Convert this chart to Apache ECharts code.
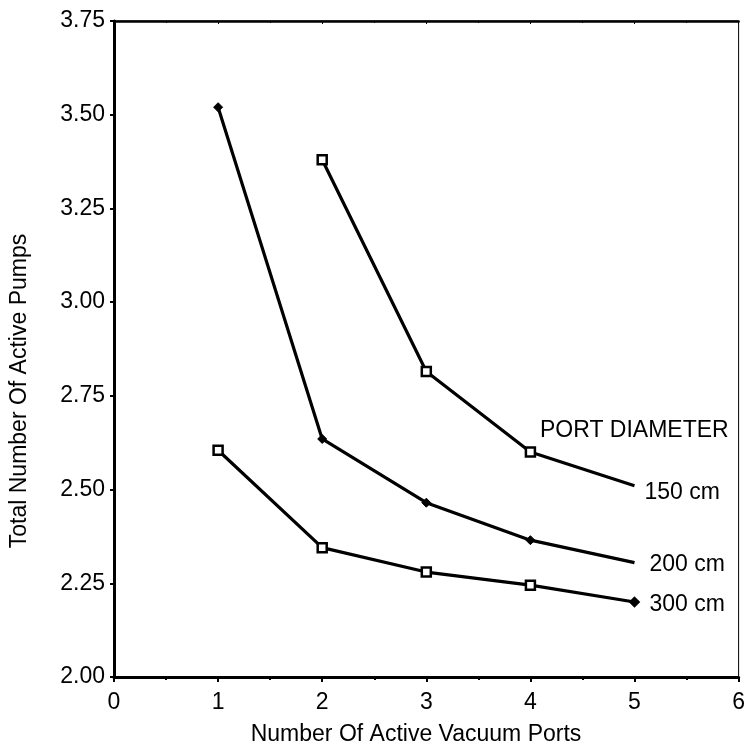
<!DOCTYPE html>
<html>
<head>
<meta charset="utf-8">
<script src="https://cdn.jsdelivr.net/npm/echarts@6/dist/echarts.min.js"></script>
<style>html,body{margin:0;padding:0;background:#fff}#c{width:748px;height:746px}</style>
</head>
<body>
<div id="c"></div>
<script>
const ports = [1, 2, 3, 4, 5];
const pumps150 = [null, 3.38, 2.815, 2.60, 2.51];
const pumps200 = [3.52, 2.635, 2.465, 2.365, 2.305];
const pumps300 = [2.605, 2.345, 2.28, 2.245, 2.20];
const seriesNames = ['150 cm', '200 cm', '300 cm'];
const yTicks = ['2.00', '2.25', '2.50', '2.75', '3.00', '3.25', '3.50', '3.75'];
const legendTitle = 'PORT DIAMETER';
const xTitle = 'Number Of Active Vacuum Ports';
const yTitle = 'Total Number Of Active Pumps';

const FONT = '"Liberation Sans", Arial, Helvetica, sans-serif';
const FS = 23;

function build(vals, name, symbol, lastSymbol, labelOffset) {
  const pts = [];
  ports.forEach((x, i) => {
    if (vals[i] == null) return;
    pts.push({ value: [x, vals[i]] });
  });
  const last = pts[pts.length - 1];
  last.symbol = lastSymbol;
  if (lastSymbol !== 'none') { last.symbolSize = 8; last.itemStyle = { color: '#000', borderColor: '#000' }; }
  return {
    type: 'line', name: name, data: pts,
    symbol: symbol, symbolSize: 9,
    lineStyle: { color: '#000', width: 3.2 },
    itemStyle: symbol === 'diamond'
      ? { color: '#000', borderColor: '#000', borderWidth: 1 }
      : { color: '#fff', borderColor: '#000', borderWidth: 2.5 },
    endLabel: {
      show: true, formatter: name, distance: 14, offset: labelOffset,
      color: '#000', fontSize: FS, fontFamily: FONT
    },
    z: 3, animation: false
  };
}

const chart = echarts.init(document.getElementById('c'));
chart.setOption({
  animation: false,
  backgroundColor: '#fff',
  grid: { left: 114, right: 6, top: 21, bottom: 69, show: true, borderColor: '#000', borderWidth: 1 },
  xAxis: [{
    type: 'value', min: 0, max: 6, interval: 1,
    axisLine: { show: true, lineStyle: { color: '#000', width: 3 } },
    axisTick: { show: true, length: 5, lineStyle: { color: '#000', width: 2 } },
    minorTick: { show: true, splitNumber: 2, length: 3, lineStyle: { color: '#000', width: 2 } },
    axisLabel: { color: '#000', fontSize: FS, fontFamily: FONT, margin: 14 },
    splitLine: { show: false }
  }, {
    type: 'value', min: 0, max: 6, interval: 1, position: 'top',
    axisLine: { show: true, lineStyle: { color: '#000', width: 2.5 } },
    axisTick: { show: true, inside: true, length: 3, lineStyle: { color: '#000', width: 1 } },
    minorTick: { show: true, splitNumber: 2, length: 2 },
    axisLabel: { show: false }, splitLine: { show: false }
  }],
  yAxis: {
    type: 'value', min: 2, max: 3.75, interval: 0.25,
    axisLine: { show: true, lineStyle: { color: '#000', width: 3 } },
    axisTick: { show: true, length: 4, lineStyle: { color: '#000', width: 2 } },
    axisLabel: {
      color: '#000', fontSize: FS, fontFamily: FONT, margin: 9,
      formatter: v => yTicks[Math.round((v - 2) / 0.25)]
    },
    splitLine: { show: false }
  },
  graphic: [{
    type: 'text', x: 540, y: 431,
    style: { text: legendTitle, fill: '#000', fontSize: FS, fontFamily: FONT, verticalAlign: 'middle', align: 'left' }
  }, {
    type: 'text', x: 416, y: 735,
    style: { text: xTitle, fill: '#000', fontSize: FS, fontFamily: FONT, verticalAlign: 'middle', align: 'center' }
  }, {
    type: 'text', x: 20, y: 391, rotation: Math.PI / 2,
    style: { text: yTitle, fill: '#000', fontSize: FS, fontFamily: FONT, verticalAlign: 'middle', align: 'center' }
  }],
  series: [
    build(pumps150, seriesNames[0], 'rect', 'none', [-4, 7]),
    build(pumps200, seriesNames[1], 'diamond', 'none', [1, 2]),
    build(pumps300, seriesNames[2], 'rect', 'diamond', [1, 3])
  ]
});
</script>
</body>
</html>
